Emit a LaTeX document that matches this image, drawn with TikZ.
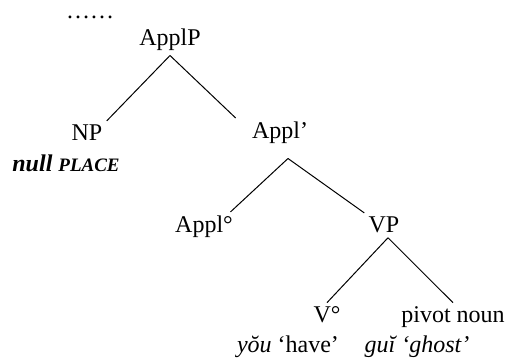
\documentclass[tikz,border=0pt]{standalone}
\usepackage{fontspec}
\setmainfont{Liberation Serif}
\usepackage{tikz}

\tikzset{
  cat/.style={anchor=base, inner sep=2pt},
  branch/.style={draw=black, line width=0.5pt}
}

\begin{document}
\begin{tikzpicture}[x=0.5pt,y=-0.5pt]
\useasboundingbox (0,0) rectangle (508,362);
\begin{scope}[font=\fontsize{12}{14}\selectfont, every node/.style={cat}]
% categories
\node (dots) at (90,19) {……};
\node (applP) at (170,46) {ApplP};
\node (np) at (87,141) {NP};
\node[anchor=base west] (null) at (8,172) {\textbf{\textit{null {\fontsize{9.5}{11}\selectfont PLACE}}}};
\node (applbar) at (280,139) {Appl’};
\node (appl0) at (204,233) {Appl°};
\node (vp) at (384,233) {VP};
\node (v0) at (327,323) {V°};
\node (pivot) at (453,323) {pivot noun};
% glosses
\node (you) at (288,353) {\textit{yŏu} ‘have’};
\node (gui) at (417,353) {\textit{guĭ ‘ghost’}};

% branches
\draw[branch] (applP.south) -- (np.north east);
\draw[branch] (applP.south) -- ([xshift=-6pt]applbar.north west);
\draw[branch] ([shift={(4pt,-5pt)}]applbar.south) -- (appl0.30);
\draw[branch] ([shift={(4pt,-5pt)}]applbar.south) -- (vp.north west);
\draw[branch] ([xshift=2pt]vp.south) -- (v0.north);
\draw[branch] ([xshift=2pt]vp.south) -- (pivot.north);
\end{scope}
\end{tikzpicture}
\end{document}
